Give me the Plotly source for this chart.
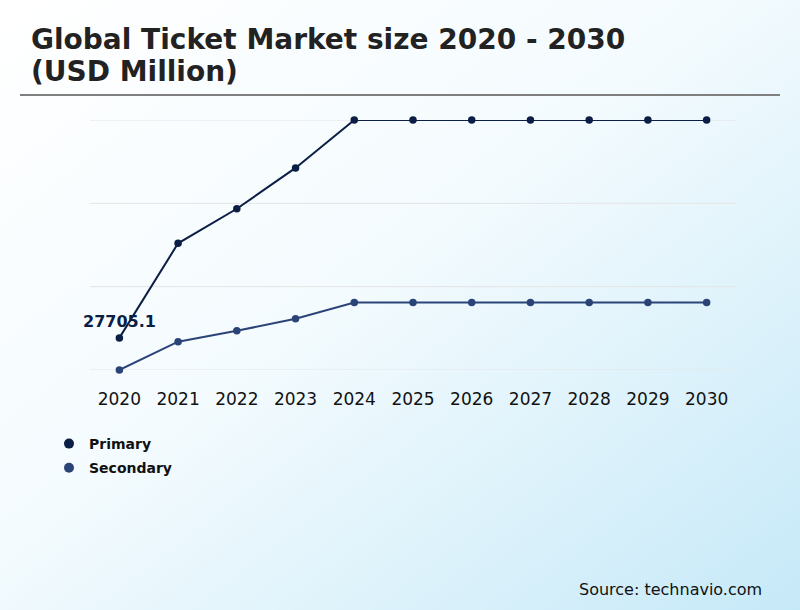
import base64
import plotly.graph_objects as go

# data
years = ["2020", "2021", "2022", "2023", "2024", "2025", "2026", "2027", "2028", "2029", "2030"]
primary = [27705.1, 50400, 58700, 68500, 80000, 80000, 80000, 80000, 80000, 80000, 80000]
secondary = [20000, 26800, 29400, 32300, 36200, 36200, 36200, 36200, 36200, 36200, 36200]
grid_vals = [20000, 40000, 60000, 80000]

navy = "#0b1e45"
blue = "#2b4478"

W, H = 800, 610
L, R, T, B = 90, 64, 120, 240
pw, ph = W - L - R, H - T - B


def px_x(p):
    return (p - L) / pw


def px_y(p):
    return (T + ph - p) / ph


# soft diagonal background gradient (white -> light blue)
svg = (
    '<svg xmlns="http://www.w3.org/2000/svg" width="800" height="610">'
    '<defs><linearGradient id="g" x1="0" y1="0" x2="1" y2="1">'
    '<stop offset="0" stop-color="#ffffff"/>'
    '<stop offset="0.45" stop-color="#f4fbfe"/>'
    '<stop offset="1" stop-color="#c6e9f8"/>'
    '</linearGradient></defs>'
    '<rect width="800" height="610" fill="url(#g)"/></svg>'
)
bg = "data:image/svg+xml;base64," + base64.b64encode(svg.encode()).decode()

fig = go.Figure()

fig.add_trace(go.Scatter(x=years, y=primary, mode="lines+markers", name="Primary",
                         line=dict(color=navy, width=2), marker=dict(color=navy, size=7.5),
                         cliponaxis=False, showlegend=False))
fig.add_trace(go.Scatter(x=years, y=secondary, mode="lines+markers", name="Secondary",
                         line=dict(color=blue, width=2), marker=dict(color=blue, size=7.5),
                         cliponaxis=False, showlegend=False))

# legend entries as markers only
fig.add_trace(go.Scatter(x=[None], y=[None], mode="markers", name="Primary", legendgroup="p",
                         marker=dict(color=navy, size=10)))
fig.add_trace(go.Scatter(x=[None], y=[None], mode="markers", name="Secondary", legendgroup="s",
                         marker=dict(color=blue, size=10)))

# gridlines (as shapes so the edge ones show too)
for v in grid_vals:
    fig.add_shape(type="line", xref="paper", yref="y", x0=0, x1=1, y0=v, y1=v,
                  line=dict(color="#e4e4e4", width=1), layer="below")

# first-point label (x given as category index)
fig.add_annotation(x=0, y=primary[0], text="<b>27705.1</b>", showarrow=False,
                   yshift=16, font=dict(family="DejaVu Sans", size=16, color=navy))

title_lines = ["Global Ticket Market size 2020 - 2030", "(USD Million)"]
for i, line in enumerate(title_lines):
    fig.add_annotation(xref="paper", yref="paper", x=px_x(29), y=px_y(40 + 31 * i),
                       xanchor="left", yanchor="middle", showarrow=False,
                       text="<b>" + line + "</b>",
                       font=dict(family="DejaVu Sans", size=28, color="#222222"))

fig.add_annotation(xref="paper", yref="paper", x=px_x(764), y=px_y(589),
                   xanchor="right", yanchor="middle", showarrow=False,
                   text="Source: technavio.com",
                   font=dict(family="DejaVu Sans", size=16, color="#111111"))

# rule under the title
fig.add_shape(type="line", xref="paper", yref="paper",
              x0=px_x(20), x1=px_x(780), y0=px_y(95), y1=px_y(95),
              line=dict(color="#7f7f7f", width=2))

fig.add_layout_image(source=bg, xref="paper", yref="paper", x=px_x(0), y=px_y(0),
                     sizex=W / pw, sizey=H / ph, xanchor="left", yanchor="top",
                     sizing="stretch", layer="below")

fig.update_layout(
    width=W, height=H,
    margin=dict(l=L, r=R, t=T, b=B),
    paper_bgcolor="white",
    plot_bgcolor="rgba(0,0,0,0)",
    font=dict(family="DejaVu Sans"),
    legend=dict(x=px_x(49), y=px_y(428), xanchor="left", yanchor="top",
                font=dict(family="DejaVu Sans", size=14, color="#111111", weight="bold"),
                bgcolor="rgba(0,0,0,0)", itemwidth=30, traceorder="grouped", tracegroupgap=3),
)
fig.update_xaxes(type="category", range=[-0.5, len(years) - 0.5], showgrid=False,
                 showline=False, zeroline=False, ticks="", ticklabelstandoff=17,
                 tickfont=dict(family="DejaVu Sans", size=17, color="#111111"))
fig.update_yaxes(range=[grid_vals[0], grid_vals[-1]], showticklabels=False, showgrid=False,
                 zeroline=False, showline=False)

fig.write_html("out.html", config={"displayModeBar": False},
               post_script="document.body.style.margin='0';")
